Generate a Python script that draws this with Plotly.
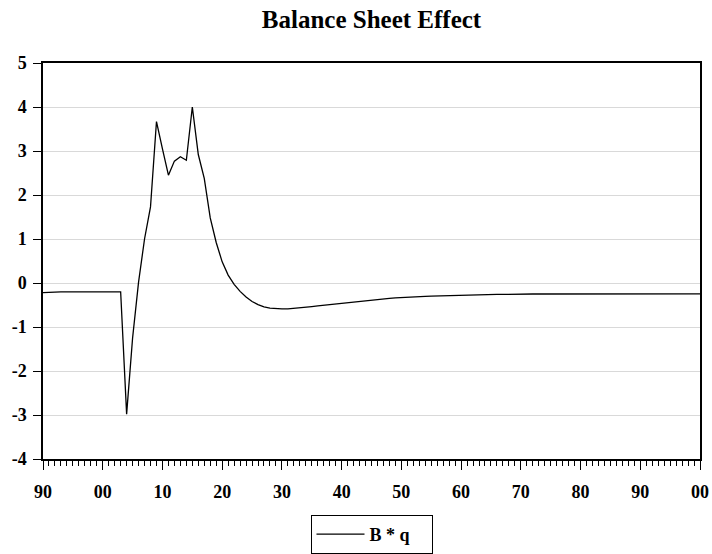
import plotly.graph_objects as go

years = list(range(1990, 2101))
bq = [
    -0.22, -0.21, -0.20, -0.20, -0.20, -0.20, -0.20, -0.20, -0.20, -0.20,   # 1990-1999
    -0.20, -0.20, -0.20, -0.20, -2.98, -1.25, 0.02, 1.00, 1.73, 3.67,      # 2000-2009
    3.05, 2.45, 2.77, 2.87, 2.79, 4.00, 2.92, 2.38, 1.48, 0.92,            # 2010-2019
    0.48, 0.18, -0.03, -0.19, -0.32, -0.42, -0.49, -0.54, -0.57, -0.585,   # 2020-2029
    -0.59, -0.59, -0.58, -0.57, -0.55, -0.535, -0.52, -0.505, -0.49, -0.47,  # 2030-2039
    -0.455, -0.44, -0.425, -0.41, -0.395, -0.38, -0.37, -0.36, -0.35, -0.34,  # 2040-2049
    -0.33, -0.325, -0.32, -0.31, -0.305, -0.30, -0.295, -0.29, -0.285, -0.28,  # 2050-2059
    -0.275, -0.27, -0.27, -0.265, -0.265, -0.26, -0.26, -0.26, -0.255, -0.255,  # 2060-2069
    -0.255, -0.25, -0.25, -0.25, -0.25, -0.25, -0.25, -0.25, -0.25, -0.25,  # 2070-2079
    -0.25, -0.25, -0.25, -0.25, -0.25, -0.25, -0.245, -0.245, -0.245, -0.245,  # 2080-2089
    -0.245, -0.245, -0.245, -0.245, -0.245, -0.245, -0.245, -0.245, -0.245, -0.245,  # 2090-2099
    -0.245,  # 2100
]

xtick_vals = list(range(1990, 2101, 10))
xtick_text = ["90", "00", "10", "20", "30", "40", "50", "60", "70", "80", "90", "00"]
ytick_vals = [-4, -3, -2, -1, 0, 1, 2, 3, 4, 5]
ytick_text = ["-4", "-3", "-2", "-1", "0", "1", "2", "3", "4", "5"]

FONT = "Liberation Serif, Times New Roman, serif"

fig = go.Figure()
fig.add_trace(go.Scatter(
    x=years, y=bq, mode="lines", name="<b>B * q</b>",
    line=dict(color="black", width=1.3),
))

fig.update_layout(
    width=712, height=554,
    paper_bgcolor="white", plot_bgcolor="white",
    margin=dict(l=43, r=12, t=63, b=95, autoexpand=False),
    title=dict(text="<b>Balance Sheet Effect</b>", x=(43 + 700) / 2 / 712, xref="container", xanchor="center",
               y=1 - 19 / 554, yref="container", yanchor="middle",
               font=dict(family=FONT, size=25, color="black")),
    font=dict(family=FONT, color="black"),
    showlegend=True,
    legend=dict(orientation="h", x=0.5, xanchor="center", y=-0.141, yanchor="top",
                itemwidth=48, entrywidth=57, entrywidthmode="pixels",
                bordercolor="black", borderwidth=1, bgcolor="white",
                font=dict(family=FONT, size=18, color="black", weight="bold")),
)

fig.update_xaxes(
    range=[1990, 2100], tickvals=xtick_vals, ticktext=["<b>%s</b>" % t for t in xtick_text],
    tickfont=dict(family=FONT, size=18, color="black", weight="bold"),
    ticklabelstandoff=7, automargin=False,
    showgrid=False, zeroline=False,
    showline=True, linecolor="black", linewidth=1.5, mirror=True,
    ticks="outside", ticklen=9, tickwidth=1, tickcolor="black",
    minor=dict(dtick=1, tick0=1990, ticks="outside", ticklen=5, tickwidth=1, tickcolor="black", showgrid=False),
)
fig.update_yaxes(
    range=[-4, 5], tickvals=ytick_vals, ticktext=["<b>%s</b>" % t for t in ytick_text],
    tickfont=dict(family=FONT, size=18, color="black", weight="bold"),
    ticklabelstandoff=3, automargin=False,
    showgrid=True, gridcolor="#d9d9d9", gridwidth=1, zeroline=False,
    showline=True, linecolor="black", linewidth=1.5, mirror=True,
    ticks="outside", ticklen=8, tickwidth=1, tickcolor="black",
)

fig.write_html("out.html", config={"displayModeBar": False},
               post_script="document.body.style.margin='0';document.body.style.overflow='hidden';")
